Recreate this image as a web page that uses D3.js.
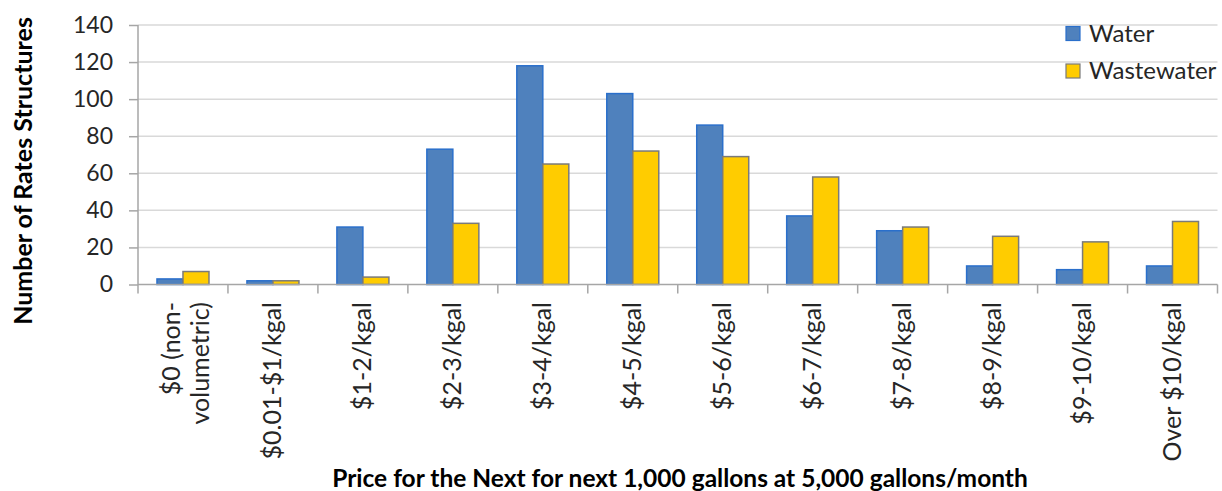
<!DOCTYPE html>
<html>
<head>
<meta charset="utf-8">
<script src="https://cdn.jsdelivr.net/npm/d3@7"></script>
<style>
  html, body { margin: 0; padding: 0; background: #fff; }
  svg { display: block; font-family: Lato, "Open Sans", sans-serif; }
</style>
</head>
<body>
<svg id="chart" width="1222" height="491"></svg>
<script>
// Price bands (label lines) for the next 1,000 gallons at 5,000 gallons/month
const categories = [
  ["$0 (non-", "volumetric)"],
  ["$0.01-$1/kgal"],
  ["$1-2/kgal"],
  ["$2-3/kgal"],
  ["$3-4/kgal"],
  ["$4-5/kgal"],
  ["$5-6/kgal"],
  ["$6-7/kgal"],
  ["$7-8/kgal"],
  ["$8-9/kgal"],
  ["$9-10/kgal"],
  ["Over $10/kgal"]
];
const seriesNames = ["Water", "Wastewater"];
const waterValues      = [3, 2, 31, 73, 118, 103, 86, 37, 29, 10, 8, 10];
const wastewaterValues = [7, 2, 4, 33, 65, 72, 69, 58, 31, 26, 23, 34];
const yTicks = [0, 20, 40, 60, 80, 100, 120, 140];

const fills   = { Water: "#4F81BD", Wastewater: "#FFCC00" };
const strokes = { Water: "#2A6FCB", Wastewater: "#7A7A7A" };

const svg = d3.select("#chart");
const plot = { left: 138, right: 1217.5, top: 25, bottom: 284.5 };

const catKeys = categories.map(c => c.join(" "));
const x0 = d3.scaleBand().domain(catKeys).range([plot.left, plot.right]).paddingInner(0).paddingOuter(0);
const x1 = d3.scaleBand().domain(seriesNames).range([0, x0.bandwidth()]).paddingInner(0).paddingOuter(0.73);
const y = d3.scaleLinear().domain([0, 140]).range([plot.bottom, plot.top]);

// horizontal gridlines
svg.append("g")
  .selectAll("line")
  .data(yTicks.filter(t => t > 0))
  .join("line")
  .attr("x1", plot.left).attr("x2", plot.right)
  .attr("y1", d => y(d)).attr("y2", d => y(d))
  .attr("stroke", "#D9D9D9").attr("stroke-width", 1.5);

// y axis
const yAxis = svg.append("g")
  .attr("transform", `translate(${plot.left},0)`)
  .call(d3.axisLeft(y).tickValues(yTicks).tickSize(9).tickPadding(16));
yAxis.select(".domain").attr("stroke", "#A6A6A6").attr("stroke-width", 1.5)
  .attr("d", `M0,${plot.top}V${plot.bottom + 9}`);
yAxis.selectAll(".tick line").attr("stroke", "#A6A6A6").attr("stroke-width", 1.5);
yAxis.selectAll(".tick text")
  .attr("fill", "#262626")
  .style("font-size", "23px")
  .style("font-family", "Lato, sans-serif");

// bars
const rows = catKeys.map((k, i) => ({ key: k, Water: waterValues[i], Wastewater: wastewaterValues[i] }));
const groups = svg.append("g")
  .selectAll("g")
  .data(rows)
  .join("g")
  .attr("transform", d => `translate(${x0(d.key)},0)`);
groups.selectAll("rect")
  .data(d => seriesNames.map(s => ({ s, v: d[s] })))
  .join("rect")
  .attr("x", d => x1(d.s))
  .attr("width", x1.bandwidth())
  .attr("y", d => y(d.v))
  .attr("height", d => y(0) - y(d.v))
  .attr("fill", d => fills[d.s])
  .attr("stroke", d => strokes[d.s])
  .attr("stroke-width", 1.5);

// x axis line and boundary ticks
const xAxis = svg.append("g");
xAxis.append("line")
  .attr("x1", plot.left).attr("x2", plot.right)
  .attr("y1", y(0)).attr("y2", y(0))
  .attr("stroke", "#A6A6A6").attr("stroke-width", 1.5);
const boundaries = catKeys.map(k => x0(k)).concat([plot.right]);
xAxis.selectAll("line.tick")
  .data(boundaries.slice(1))
  .join("line")
  .attr("class", "tick")
  .attr("x1", d => d).attr("x2", d => d)
  .attr("y1", y(0)).attr("y2", y(0) + 9)
  .attr("stroke", "#A6A6A6").attr("stroke-width", 1.5);

// rotated category labels
const labels = xAxis.selectAll("text.cat")
  .data(categories)
  .join("text")
  .attr("class", "cat")
  .attr("transform", (d, i) => `translate(${x0(catKeys[i]) + x0.bandwidth() / 2},302) rotate(-90)`)
  .attr("text-anchor", "end")
  .attr("fill", "#262626")
  .style("font-size", "25px");
labels.each(function(lines) {
  const t = d3.select(this);
  lines.forEach((ln, j) => {
    t.append("tspan")
      .attr("x", 0)
      .attr("dy", lines.length === 1 ? "0.34em" : (j === 0 ? "-0.1em" : "1.16em"))
      .text(ln);
  });
});

// axis titles
svg.append("text")
  .attr("transform", "translate(32,171) rotate(-90)")
  .attr("text-anchor", "middle")
  .attr("fill", "#000")
  .style("font-size", "25px")
  .style("font-weight", "bold")
  .text("Number of Rates Structures");

svg.append("text")
  .attr("x", 680).attr("y", 487)
  .attr("text-anchor", "middle")
  .attr("fill", "#000")
  .style("font-size", "24.5px")
  .style("font-weight", "bold")
  .text("Price for the Next for next 1,000 gallons at 5,000 gallons/month");

// legend
const legend = svg.append("g").attr("transform", "translate(1066,26.5)");
const li = legend.selectAll("g")
  .data(seriesNames)
  .join("g")
  .attr("transform", (d, i) => `translate(0,${i * 37.5})`);
li.append("rect")
  .attr("width", 14).attr("height", 14)
  .attr("fill", d => fills[d])
  .attr("stroke", d => strokes[d])
  .attr("stroke-width", 1.2);
li.append("text")
  .attr("x", 23).attr("y", 15)
  .attr("fill", "#262626")
  .style("font-size", "24px")
  .text(d => d);
</script>
</body>
</html>
